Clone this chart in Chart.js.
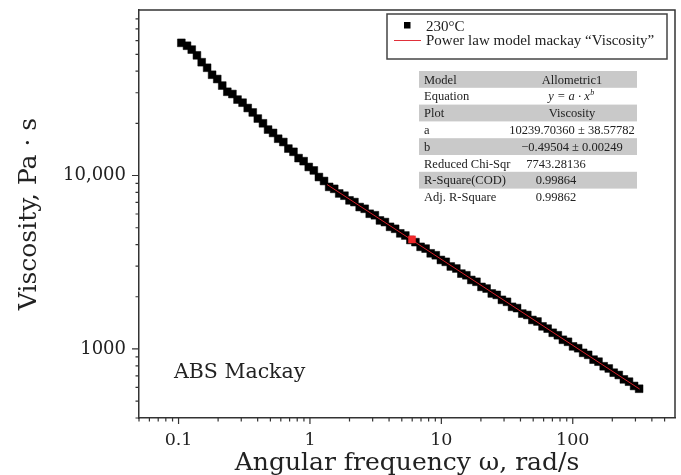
<!DOCTYPE html>
<html>
<head>
<meta charset="utf-8">
<script src="https://cdn.jsdelivr.net/npm/chart.js@4.4.1/dist/chart.umd.min.js"></script>
<style>
  html, body { margin: 0; padding: 0; background: #fff; }
  #wrap { width: 681px; height: 475px; }
</style>
</head>
<body>
<div id="wrap"><canvas id="viscChart"></canvas></div>
<script>
// angular frequency (rad/s) and measured viscosity (Pa·s), 230°C
const freq = [0.105, 0.116, 0.126, 0.138, 0.150, 0.165, 0.180, 0.197, 0.215, 0.235,
  0.257, 0.281, 0.307, 0.336, 0.367, 0.401, 0.439, 0.480, 0.524, 0.573,
  0.627, 0.685, 0.749, 0.819, 0.895, 0.979, 1.07, 1.17, 1.28, 1.40,
  1.53, 1.67, 1.83, 2.00, 2.18, 2.39, 2.61, 2.85, 3.12, 3.41,
  3.72, 4.07, 4.45, 4.87, 5.32, 5.81, 6.35, 6.95, 7.59, 8.30,
  9.07, 9.92, 10.8, 11.8, 13.0, 14.2, 15.5, 16.9, 18.5, 20.2,
  22.1, 24.2, 26.4, 28.9, 31.6, 34.5, 37.7, 41.3, 45.1, 49.3,
  53.9, 58.9, 64.4, 70.4, 77.0, 84.1, 92.0, 100.5, 110, 120,
  131, 144, 157, 172, 188, 205, 224, 245, 268, 293, 320];
const viscosity = [58200, 56000, 53200, 49300, 45000, 41800, 38100, 36000, 33000, 30400,
  29500, 27400, 26300, 24500, 23100, 21300, 20000, 18400, 17600, 16300,
  15600, 14300, 13700, 12600, 12100, 11200, 10700, 9800, 9300, 8600,
  8380, 7880, 7650, 7190, 7030, 6580, 6430, 6020, 5900, 5510,
  5390, 5060, 4930, 4640, 4510, 4250, 4130, 3880, 3790, 3560,
  3470, 3260, 3180, 2990, 2910, 2720, 2660, 2500, 2440, 2280,
  2230, 2090, 2050, 1920, 1870, 1750, 1720, 1600, 1570, 1470,
  1440, 1350, 1310, 1240, 1200, 1130, 1100, 1035, 1010, 950,
  925, 868, 845, 795, 772, 730, 708, 668, 648, 612, 590];

// power law fit line and the highlighted point
const fitFreq = [1.35, 323];
const fitVisc = [8870, 587];
const markFreq = [5.98];
const markVisc = [4280];

// axis ticks
const xMajor = [0.1, 1, 10, 100];
const xMinor = [0.05, 0.06, 0.07, 0.08, 0.09, 0.2, 0.3, 0.4, 0.5, 0.6, 0.7, 0.8, 0.9,
  2, 3, 4, 5, 6, 7, 8, 9, 20, 30, 40, 50, 60, 70, 80, 90, 200, 300, 400, 500];
const xLabels = ['0.1', '1', '10', '100'];
const yMajor = [1000, 10000];
const yMinor = [400, 500, 600, 700, 800, 900, 2000, 3000, 4000, 5000, 6000, 7000, 8000, 9000,
  20000, 30000, 40000, 50000, 60000, 70000, 80000];
const yLabels = ['1000', '10,000'];

// fit results table
const tableLabels = ['Model', 'Equation', 'Plot', 'a', 'b', 'Reduced Chi-Sqr', 'R-Square(COD)', 'Adj. R-Square'];
const tableValues = ['Allometric1', 'y = a · x', 'Viscosity', '10239.70360 ± 38.57782', '\u22120.49504 ± 0.00249',
  '7743.28136', '0.99864', '0.99862'];

const serif = '"Liberation Serif", "Times New Roman", serif';
const wide = '"DejaVu Serif", serif';
const ink = '#222';

function toPoints(xs, ys) {
  return xs.map((x, i) => ({ x: x, y: ys[i] }));
}

// frame, tick marks, legend box, table and sample label
const decorations = {
  id: 'decorations',
  afterDraw(chart) {
    const ctx = chart.ctx;
    const a = chart.chartArea;
    const xs = chart.scales.x, ys = chart.scales.y;
    ctx.save();
    ctx.strokeStyle = '#333';
    ctx.lineWidth = 1.5;
    ctx.beginPath();
    ctx.moveTo(a.left, a.top);
    ctx.lineTo(a.right, a.top);
    ctx.lineTo(a.right, a.bottom);
    ctx.stroke();

    ctx.lineWidth = 1.2;
    ctx.beginPath();
    xMajor.forEach(v => { const p = xs.getPixelForValue(v); ctx.moveTo(p, a.bottom); ctx.lineTo(p, a.bottom + 6); });
    xMinor.forEach(v => { const p = xs.getPixelForValue(v); ctx.moveTo(p, a.bottom); ctx.lineTo(p, a.bottom + 3.5); });
    yMajor.forEach(v => { const p = ys.getPixelForValue(v); ctx.moveTo(a.left, p); ctx.lineTo(a.left - 7, p); });
    yMinor.forEach(v => { const p = ys.getPixelForValue(v); ctx.moveTo(a.left, p); ctx.lineTo(a.left - 3.5, p); });
    ctx.stroke();

    // legend
    const ds = chart.data.datasets;
    ctx.lineWidth = 1.5;
    ctx.strokeStyle = '#444';
    ctx.strokeRect(387, 14, 280, 45);
    ctx.fillStyle = '#000';
    ctx.fillRect(404, 22, 6.5, 6.5);
    ctx.strokeStyle = '#e0303a';
    ctx.lineWidth = 1;
    ctx.beginPath();
    ctx.moveTo(394, 40.5);
    ctx.lineTo(421, 40.5);
    ctx.stroke();
    ctx.fillStyle = ink;
    ctx.font = '15px ' + serif;
    ctx.textBaseline = 'alphabetic';
    ctx.textAlign = 'left';
    ctx.fillText(ds[0].label, 426, 31);
    ctx.fillText(ds[1].label, 426, 45);

    // table
    const top = 71, rowH = 16.8;
    ctx.font = '12.5px ' + serif;
    tableLabels.forEach((lab, i) => {
      const y0 = top + i * rowH;
      if (i % 2 === 0) {
        ctx.fillStyle = '#c9c9c9';
        ctx.fillRect(419, y0, 218, rowH);
      }
      ctx.fillStyle = ink;
      ctx.textAlign = 'left';
      ctx.fillText(lab, 424, y0 + 12.5);
      const cx = i < 5 ? 572 : 556;
      ctx.textAlign = 'center';
      if (i === 1) {
        ctx.font = 'italic 12.5px ' + serif;
        ctx.fillText(tableValues[i], cx - 3, y0 + 12.5);
        const w = ctx.measureText(tableValues[i]).width;
        ctx.font = 'italic 8px ' + serif;
        ctx.textAlign = 'left';
        ctx.fillText('b', cx - 3 + w / 2 + 0.5, y0 + 7.5);
        ctx.font = '12.5px ' + serif;
      } else {
        ctx.fillText(tableValues[i], cx, y0 + 12.5);
      }
    });

    ctx.textAlign = 'left';
    ctx.font = '20.5px ' + wide;
    ctx.fillStyle = ink;
    ctx.fillText('ABS Mackay', 174, 378);
    ctx.restore();
  }
};

new Chart(document.getElementById('viscChart'), {
  type: 'scatter',
  data: {
    datasets: [
      {
        label: '230°C',
        data: toPoints(freq, viscosity),
        pointStyle: 'rect',
        pointRadius: 5.5,
        pointBackgroundColor: '#000',
        pointBorderColor: '#000',
        pointBorderWidth: 0.5,
        showLine: false,
        order: 3
      },
      {
        label: 'Power law model mackay \u201cViscosity\u201d',
        data: toPoints(fitFreq, fitVisc),
        showLine: true,
        borderColor: '#d8202a',
        borderWidth: 1,
        pointRadius: 0,
        order: 2
      },
      {
        label: 'mark',
        data: toPoints(markFreq, markVisc),
        pointStyle: 'rect',
        pointRadius: 5,
        pointBackgroundColor: '#f0282a',
        pointBorderColor: '#f0282a',
        pointBorderWidth: 0.5,
        showLine: false,
        order: 1
      }
    ]
  },
  options: {
    responsive: true,
    maintainAspectRatio: false,
    animation: false,
    layout: { padding: { top: 10, right: 6, left: 0, bottom: 0 } },
    plugins: { legend: { display: false }, tooltip: { enabled: false } },
    scales: {
      x: {
        type: 'logarithmic',
        min: 0.05,
        max: 600,
        afterBuildTicks: s => { s.ticks = xMajor.map(v => ({ value: v })); },
        afterFit: s => { s.height = 57; s.paddingLeft = 0; s.paddingRight = 0; },
        grid: { display: false, drawTicks: false },
        border: { display: true, color: '#333', width: 1.5 },
        ticks: {
          autoSkip: false,
          maxRotation: 0,
          padding: 12,
          color: ink,
          font: { family: wide, size: 17.5 },
          callback: v => xLabels[xMajor.indexOf(v)]
        },
        title: {
          display: true,
          text: 'Angular frequency \u03c9, rad/s',
          color: ink,
          font: { family: wide, size: 25 },
          padding: { top: 0, bottom: -3 }
        }
      },
      y: {
        type: 'logarithmic',
        min: 400,
        max: 90000,
        afterBuildTicks: s => { s.ticks = yMajor.map(v => ({ value: v })); },
        afterFit: s => { s.width = 139; s.paddingTop = 0; s.paddingBottom = 0; },
        grid: { display: false, drawTicks: false },
        border: { display: true, color: '#333', width: 1.5 },
        ticks: {
          autoSkip: false,
          padding: 13,
          color: ink,
          font: { family: wide, size: 18 },
          callback: v => yLabels[yMajor.indexOf(v)]
        },
        title: {
          display: true,
          text: 'Viscosity, Pa \u00b7 s',
          color: ink,
          font: { family: wide, size: 25 },
          padding: { top: 14, bottom: 0 }
        }
      }
    }
  },
  plugins: [decorations]
});
</script>
</body>
</html>
